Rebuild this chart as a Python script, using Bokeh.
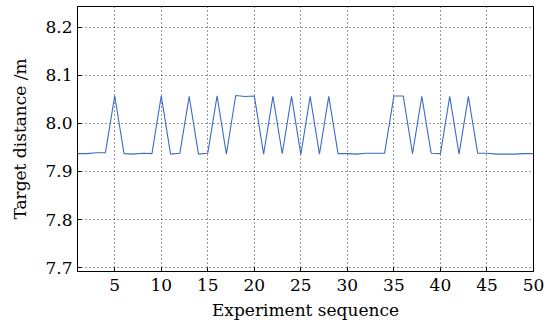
from bokeh.plotting import figure
from bokeh.models import Range1d, FixedTicker, ColumnDataSource, CustomJSTickFormatter
from bokeh.embed import file_html
from bokeh.resources import INLINE

sequence = list(range(1, 51))
distance = [
    7.937, 7.937, 7.939, 7.939, 8.057, 7.937, 7.936, 7.938, 7.937, 8.057,
    7.936, 7.938, 8.056, 7.936, 7.938, 8.057, 7.936, 8.058, 8.056, 8.057,
    7.936, 8.056, 7.937, 8.056, 7.935, 8.056, 7.936, 8.056, 7.937, 7.937,
    7.936, 7.938, 7.938, 7.938, 8.057, 8.057, 7.937, 8.056, 7.938, 7.937,
    8.056, 7.936, 8.056, 7.938, 7.938, 7.936, 7.936, 7.936, 7.937, 7.937,
]
x_ticks = [5, 10, 15, 20, 25, 30, 35, 40, 45, 50]
y_ticks = [7.7, 7.8, 7.9, 8.0, 8.1, 8.2]

src = ColumnDataSource(dict(x=sequence, y=distance))

p = figure(width=558, height=322, output_backend="svg", toolbar_location=None,
           x_range=Range1d(1, 50), y_range=Range1d(7.692, 8.243),
           min_border_left=77, min_border_right=25, min_border_top=6, min_border_bottom=50)
p.line("x", "y", source=src, line_color="#3d6cc6", line_width=1.1)

font = "'DejaVu Serif'"
for ax in (p.xaxis[0], p.yaxis[0]):
    ax.major_label_text_font = font
    ax.major_label_text_font_size = "17px"
    ax.major_label_text_font_style = "normal"
    ax.major_label_text_color = "black"
    ax.axis_label_text_font = font
    ax.axis_label_text_font_size = "17px"
    ax.axis_label_text_font_style = "normal"
    ax.axis_label_text_color = "black"
    ax.major_tick_in = 4
    ax.major_tick_out = 0
    ax.minor_tick_in = 0
    ax.minor_tick_out = 0
    ax.axis_line_color = "black"
    ax.major_tick_line_color = "black"

p.xaxis.ticker = FixedTicker(ticks=x_ticks)
p.yaxis.ticker = FixedTicker(ticks=y_ticks)
p.yaxis.formatter = CustomJSTickFormatter(code="return tick.toFixed(1);")
p.xaxis.axis_label = "Experiment sequence"
p.yaxis.axis_label = "Target distance /m"
p.xaxis.major_label_standoff = 7
p.yaxis.major_label_standoff = 5
p.xaxis.axis_label_standoff = 6
p.yaxis.axis_label_standoff = 12

for g in (p.xgrid, p.ygrid):
    g.grid_line_color = "black"
    g.grid_line_dash = "1 3"
    g.grid_line_alpha = 0.8
    g.grid_line_width = 1
p.xgrid.ticker = FixedTicker(ticks=x_ticks)
p.ygrid.ticker = FixedTicker(ticks=y_ticks)

p.outline_line_color = "black"
p.outline_line_alpha = 1
p.outline_line_width = 1
p.background_fill_color = "white"
p.border_fill_color = "white"

open("out.html", "w").write(file_html(p, INLINE))
